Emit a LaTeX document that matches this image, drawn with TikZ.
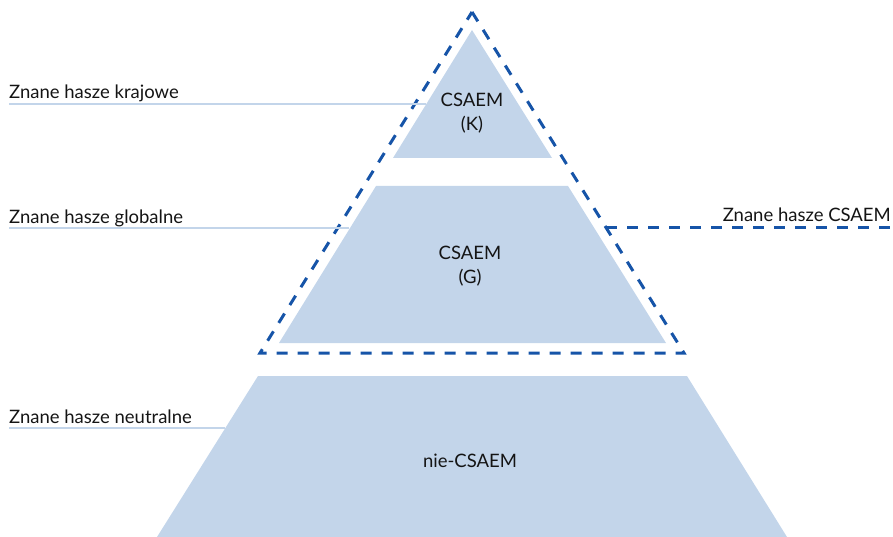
\documentclass[tikz,border=0pt]{standalone}
\usepackage{fontspec}
\setmainfont{Lato}
\usetikzlibrary{positioning}
\definecolor{paleblue}{RGB}{195,213,234}
\definecolor{dashblue}{RGB}{22,84,168}
\definecolor{inkgray}{RGB}{20,20,20}

\begin{document}
\begin{tikzpicture}[x=1pt,y=-1pt,
    level/.style={fill=paleblue,draw=none},
    guide/.style={draw=paleblue,line width=2.8pt},
    csaem/.style={draw=dashblue,line width=3pt,dash pattern=on 11pt off 10pt},
    lbl/.style={font=\fontsize{18.5}{24.5}\selectfont,text=inkgray,inner sep=0pt,align=center},
    tag/.style={lbl,anchor=base west}]

  \useasboundingbox (0,0) rectangle (893,537);

  % Draw the three levels of the pyramid
  \fill[level] (472,30) -- (552,158) -- (393,158) -- cycle;
  \fill[level] (376,186) -- (568,186) -- (666,343) -- (279,343) -- cycle;
  \fill[level] (258,376) -- (687,376) -- (787,537) -- (157,537) -- cycle;

  % Label the levels
  \node[lbl] (k) at (472,113) {CSAEM\\(K)};
  \node[lbl] (g) at (470,266) {CSAEM\\(G)};
  \node[lbl] (nie) at (470,461) {nie-CSAEM};

  % Draw the dashed CSAEM triangle
  \draw[csaem] (472,12) -- (684,353) -- (260,353) -- cycle;

  % Points where the guide lines meet the pyramid
  \coordinate (kedge) at (426,104);
  \coordinate (gedge) at (349,228);
  \coordinate (nedge) at (225,428);
  \coordinate (cedge) at (606,228);

  % Labels on the left with their guide lines
  \node[tag] (krajowe) at (9,99) {Znane hasze krajowe};
  \node[tag] (globalne) at (9,223) {Znane hasze globalne};
  \node[tag] (neutralne) at (9,423) {Znane hasze neutralne};
  \draw[guide] (krajowe.base west |- kedge) -- (kedge);
  \draw[guide] (globalne.base west |- gedge) -- (gedge);
  \draw[guide] (neutralne.base west |- nedge) -- (nedge);

  % Label on the right with its dashed line
  \node[lbl,anchor=base east] (csaemtag) at (891,222) {Znane hasze CSAEM};
  \draw[csaem] (cedge) -- (893,228);
\end{tikzpicture}
\end{document}
